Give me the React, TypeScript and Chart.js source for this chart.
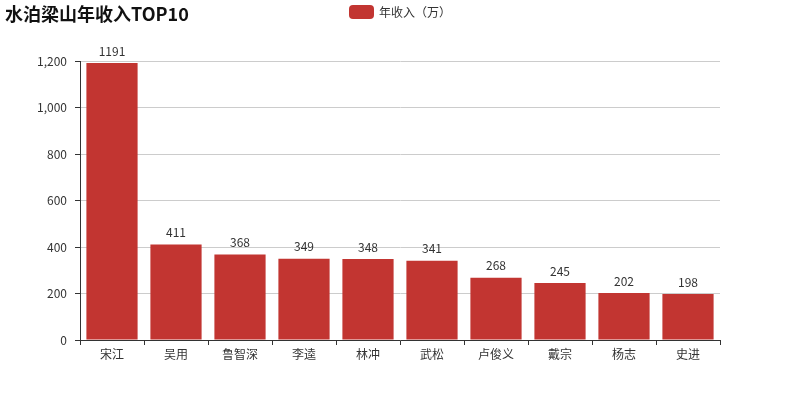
import { useEffect, useRef } from 'react';
import { Chart, ChartConfiguration, Plugin, registerables } from 'chart.js';

Chart.register(...registerables);

const FONT = '"Noto Sans CJK SC", "Noto Sans", sans-serif';

const titleText = '水泊梁山年收入TOP10';
const seriesName = '年收入（万）';
const names = ['宋江', '吴用', '鲁智深', '李逵', '林冲', '武松', '卢俊义', '戴宗', '杨志', '史进'];
const incomes = [1191, 411, 368, 349, 348, 341, 268, 245, 202, 198];
const barColor = '#c23531';

// title, legend and value labels drawn on the canvas
const decorations: Plugin<'bar'> = {
  id: 'decorations',
  afterDatasetsDraw(chart) {
    const ctx = chart.ctx;
    ctx.save();

    // value labels above each bar
    ctx.font = `12px ${FONT}`;
    ctx.fillStyle = '#333';
    ctx.textAlign = 'center';
    ctx.textBaseline = 'bottom';
    const meta = chart.getDatasetMeta(0);
    meta.data.forEach((bar, i) => {
      const v = chart.data.datasets[0].data[i] as number;
      ctx.fillText(String(v), bar.x, bar.y - 6);
    });

    // title
    ctx.font = `bold 18px ${FONT}`;
    ctx.fillStyle = '#111';
    ctx.textAlign = 'left';
    ctx.textBaseline = 'middle';
    ctx.fillText(titleText, 5, 14);

    // legend
    const boxX = 349;
    const boxY = 5;
    ctx.fillStyle = barColor;
    ctx.beginPath();
    ctx.roundRect(boxX, boxY, 25, 14, 4);
    ctx.fill();
    ctx.font = `12px ${FONT}`;
    ctx.fillStyle = '#333';
    ctx.fillText(chart.data.datasets[0].label || '', boxX + 30, boxY + 7);

    ctx.restore();
  },
};

export default function App() {
  const canvasRef = useRef<HTMLCanvasElement>(null);
  const chartRef = useRef<Chart | null>(null);

  useEffect(() => {
    document.body.style.margin = '0';
    if (!canvasRef.current) return;
    if (chartRef.current) chartRef.current.destroy();

    const config: ChartConfiguration<'bar'> = {
      type: 'bar',
      data: {
        labels: names,
        datasets: [
          {
            label: seriesName,
            data: incomes,
            backgroundColor: barColor,
            barPercentage: 0.8,
            categoryPercentage: 1,
          },
        ],
      },
      options: {
        responsive: true,
        maintainAspectRatio: false,
        animation: false,
        layout: { padding: { left: 0, right: 80, top: 61, bottom: 0 } },
        plugins: {
          legend: { display: false },
          title: { display: false },
          tooltip: { enabled: false },
        },
        scales: {
          x: {
            afterFit: (scale) => {
              scale.height = 60;
            },
            grid: {
              offset: true,
              drawOnChartArea: false,
              drawTicks: true,
              tickLength: 5,
              tickColor: '#333',
            },
            border: { color: '#333' },
            ticks: {
              color: '#333',
              padding: 2,
              font: { family: FONT, size: 12 },
            },
          },
          y: {
            min: 0,
            max: 1200,
            afterFit: (scale) => {
              scale.width = 80;
            },
            grid: {
              color: '#ccc',
              tickColor: '#333',
              tickLength: 5,
            },
            border: { color: '#333' },
            ticks: {
              stepSize: 200,
              color: '#333',
              padding: 8,
              font: { family: FONT, size: 12 },
            },
          },
        },
      },
      plugins: [decorations],
    };

    chartRef.current = new Chart(canvasRef.current, config);

    return () => {
      if (chartRef.current) {
        chartRef.current.destroy();
        chartRef.current = null;
      }
    };
  }, []);

  return (
    <div style={{ position: 'relative', width: 800, height: 400, background: '#fff' }}>
      <canvas ref={canvasRef} />
    </div>
  );
}
